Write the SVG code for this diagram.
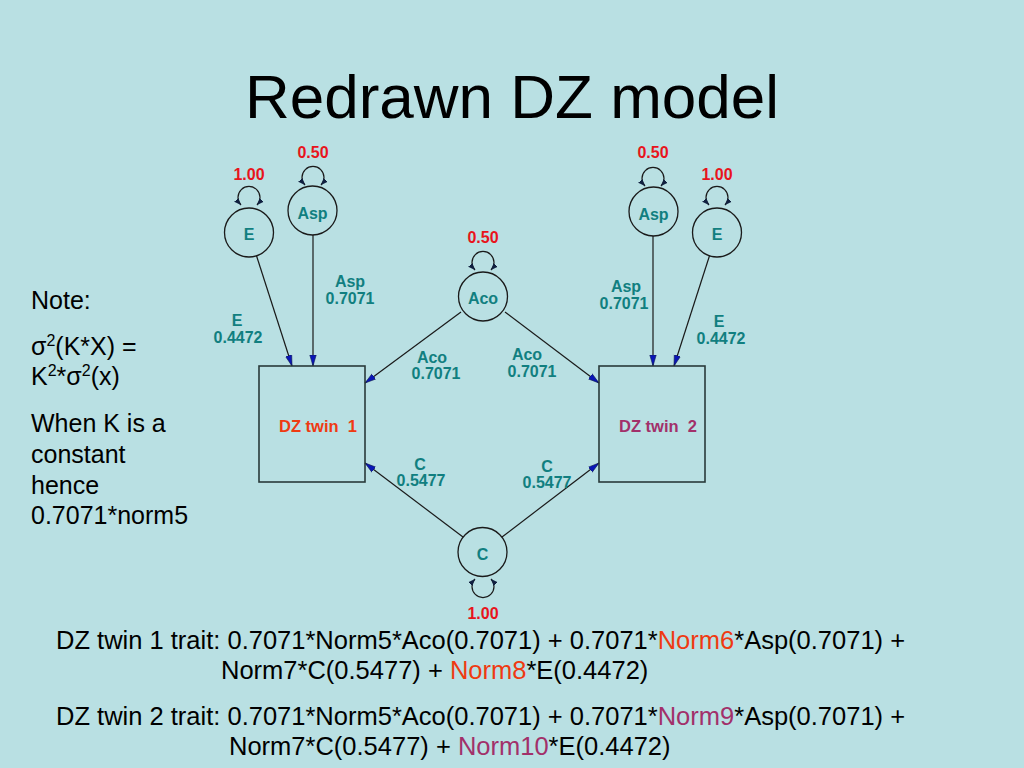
<svg xmlns="http://www.w3.org/2000/svg" width="1024" height="768" viewBox="0 0 1024 768">
<style>
.bg{fill:#b9e0e3}
.title{font-family:"Liberation Sans",Arial,sans-serif;font-size:62px;fill:#000;text-anchor:middle}
.body{font-family:"Liberation Sans",Arial,sans-serif;font-size:25px;fill:#000}
.fx{font-size:25.5px}
.lbl{font-family:"Liberation Sans",Arial,sans-serif;font-weight:bold;font-size:16px;fill:#117f80;text-anchor:middle}
.val{font-family:"Liberation Sans",Arial,sans-serif;font-weight:bold;font-size:16px;fill:#e8141c;text-anchor:middle}
.node{fill:none;stroke:#1a1a1a;stroke-width:1.3}
.box{fill:none;stroke:#2a3a3a;stroke-width:1.6}
.edge{fill:none;stroke:#1a1a1a;stroke-width:1.2;marker-end:url(#arr)}
.loop{fill:none;stroke:#1a1a1a;stroke-width:1.2;marker-start:url(#lh);marker-end:url(#lh)}
.tw{font-size:16.5px}
.t1{fill:#ef3a12}
.t2{fill:#a2306a}
</style>
<defs>
<marker id="arr" markerWidth="12" markerHeight="8" refX="11" refY="4" orient="auto" markerUnits="userSpaceOnUse">
<path d="M0,0.8 L11,4 L0,7.2 Z" fill="#0a16b8" stroke="#101c50" stroke-width="0.6"/>
</marker>
<marker id="lh" markerWidth="8" markerHeight="7" refX="7" refY="3.5" orient="auto-start-reverse" markerUnits="userSpaceOnUse">
<path d="M0,0.7 L7,3.5 L0,6.3 Z" fill="#102040"/>
</marker>
</defs>
<rect class="bg" x="0" y="0" width="1024" height="768"/>
<text class="title" x="512" y="118">Redrawn DZ model</text>

<g id="note">
<text class="body" x="31" y="309">Note:</text>
<text class="body" x="31" y="355">σ<tspan font-size="16" dy="-9">2</tspan><tspan dy="9">(K*X) =</tspan></text>
<text class="body" x="31" y="385">K<tspan font-size="16" dy="-9">2</tspan><tspan dy="9">*σ</tspan><tspan font-size="16" dy="-9">2</tspan><tspan dy="9">(x)</tspan></text>
<text class="body" x="31" y="432">When K is a</text>
<text class="body" x="31" y="463">constant</text>
<text class="body" x="31" y="494">hence</text>
<text class="body" x="31" y="524">0.7071*norm5</text>
</g>

<g id="connectors">
<line class="edge" x1="256.5" y1="255.8" x2="292" y2="366"/>
<line class="edge" x1="313" y1="235" x2="313" y2="366"/>
<line class="edge" x1="461" y1="312" x2="365" y2="383"/>
<line class="edge" x1="505" y1="312" x2="599" y2="383"/>
<line class="edge" x1="463" y1="537" x2="365" y2="463"/>
<line class="edge" x1="502" y1="537" x2="599" y2="463"/>
<line class="edge" x1="653" y1="236" x2="653" y2="366"/>
<line class="edge" x1="709.5" y1="255.8" x2="674" y2="366"/>
<path class="loop" d="M241,205 A11,11 0 1 1 257,205"/>
<path class="loop" d="M305,185 A11,11 0 1 1 321,185"/>
<path class="loop" d="M645,186 A11,11 0 1 1 661,186"/>
<path class="loop" d="M709,205 A11,11 0 1 1 725,205"/>
<path class="loop" d="M475,270 A11,11 0 1 1 491,270"/>
<path class="loop" d="M475,579 A11,11 0 1 0 491,579"/>
<text class="val" x="249" y="180">1.00</text>
<text class="val" x="313" y="158">0.50</text>
<text class="val" x="653" y="158">0.50</text>
<text class="val" x="717" y="180">1.00</text>
<text class="val" x="483" y="243">0.50</text>
<text class="val" x="483" y="619">1.00</text>
<text class="lbl" x="350" y="287">Asp</text>
<text class="lbl" x="350" y="304">0.7071</text>
<text class="lbl" x="237" y="326">E</text>
<text class="lbl" x="238" y="343">0.4472</text>
<text class="lbl" x="432" y="363">Aco</text>
<text class="lbl" x="436" y="379">0.7071</text>
<text class="lbl" x="527" y="360">Aco</text>
<text class="lbl" x="532" y="377">0.7071</text>
<text class="lbl" x="420" y="470">C</text>
<text class="lbl" x="421" y="486">0.5477</text>
<text class="lbl" x="547" y="472">C</text>
<text class="lbl" x="547" y="488">0.5477</text>
<text class="lbl" x="626" y="292">Asp</text>
<text class="lbl" x="624" y="309">0.7071</text>
<text class="lbl" x="719" y="327">E</text>
<text class="lbl" x="721" y="344">0.4472</text>
</g>

<g id="node-E1"><circle class="node" cx="249" cy="232.5" r="24.5"/><text class="lbl" x="249" y="240">E</text></g>
<g id="node-Asp1"><circle class="node" cx="312.5" cy="210.5" r="24.5"/><text class="lbl" x="312.5" y="219">Asp</text></g>
<g id="node-Aco"><circle class="node" cx="483" cy="296.5" r="24.5"/><text class="lbl" x="483" y="304">Aco</text></g>
<g id="node-C"><circle class="node" cx="482.5" cy="552" r="24.5"/><text class="lbl" x="482.5" y="560">C</text></g>
<g id="node-Asp2"><circle class="node" cx="653.5" cy="211.5" r="24.5"/><text class="lbl" x="653.5" y="220">Asp</text></g>
<g id="node-E2"><circle class="node" cx="717" cy="232.5" r="24.5"/><text class="lbl" x="717" y="240">E</text></g>
<g id="node-twin1"><rect class="box" x="259" y="366" width="106" height="116"/><text class="lbl tw t1" x="318" y="432" xml:space="preserve">DZ twin  1</text></g>
<g id="node-twin2"><rect class="box" x="599" y="366" width="106" height="116"/><text class="lbl tw t2" x="658" y="432" xml:space="preserve">DZ twin  2</text></g>

<g id="formulas">
<text class="body fx" x="56" y="649">DZ twin 1 trait: 0.7071*Norm5*Aco(0.7071) + 0.7071*<tspan class="t1">Norm6</tspan>*Asp(0.7071) +</text>
<text class="body fx" x="221" y="679">Norm7*C(0.5477) + <tspan class="t1">Norm8</tspan>*E(0.4472)</text>
<text class="body fx" x="56" y="725">DZ twin 2 trait: 0.7071*Norm5*Aco(0.7071) + 0.7071*<tspan class="t2">Norm9</tspan>*Asp(0.7071) +</text>
<text class="body fx" x="229" y="755">Norm7*C(0.5477) + <tspan class="t2">Norm10</tspan>*E(0.4472)</text>
</g>
</svg>
